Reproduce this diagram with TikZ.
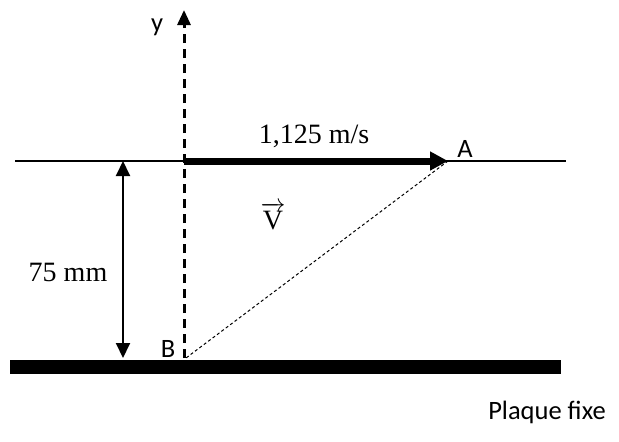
\documentclass[tikz,border=0pt]{standalone}
\usepackage{fontspec}
\usepackage{amsmath}
\setmainfont{Liberation Serif}
\newfontfamily\calfont{Carlito}
\usetikzlibrary{arrows.meta}
\begin{document}
\begin{tikzpicture}[x=1pt,y=-1pt,
  serif/.style={font=\fontsize{28}{32}\selectfont, inner sep=0pt},
  sans/.style={font=\calfont\fontsize{26.5}{31}\selectfont, inner sep=0pt},
  axisline/.style={line width=3pt, dash pattern=on 9pt off 6pt, -{Triangle[length=15pt,width=13pt]}},
  speed/.style={line width=7pt, -{Triangle[length=18pt,width=18pt]}},
  dim/.style={line width=2pt, {Triangle[length=15pt,width=14pt]}-{Triangle[length=15pt,width=14pt]}},
  thin/.style={line width=1pt, dash pattern=on 3pt off 2.5pt}]
\useasboundingbox (0,0) rectangle (619,442);
\coordinate (L) at (15,161);
\coordinate (R) at (566,161);
\coordinate (O) at (184,161);
\coordinate (A) at (448,161);
\coordinate (B) at (186,358);
\coordinate (Ytop) at (184,10);
\coordinate (Ybot) at (184,358);
\coordinate (D1) at (123,161);
\coordinate (D2) at (123,358);
\draw[line width=2pt] (L) -- (R);
\draw[axisline] (Ybot) -- (Ytop);
\draw[speed] (O) -- (A);
\draw[thin] (A) -- (B);
\draw[dim] (D1) -- (D2);
\fill (10,360) rectangle (561,374);
\node[sans] (ylab) at (157,27) {y};
\node[sans] (Alab) at (465,149) {A};
\node[sans] (Blab) at (168,349) {B};
\node[serif] (vlab) at (314,136) {1,125 m/s};
\node[serif] (dlab) at (68,272) {75 mm};
\node[serif] (Vlab) at (273,216) {$\overrightarrow{\text{V}}$};
\node[sans] (plaque) at (547,412) {Plaque fixe};
\end{tikzpicture}
\end{document}
